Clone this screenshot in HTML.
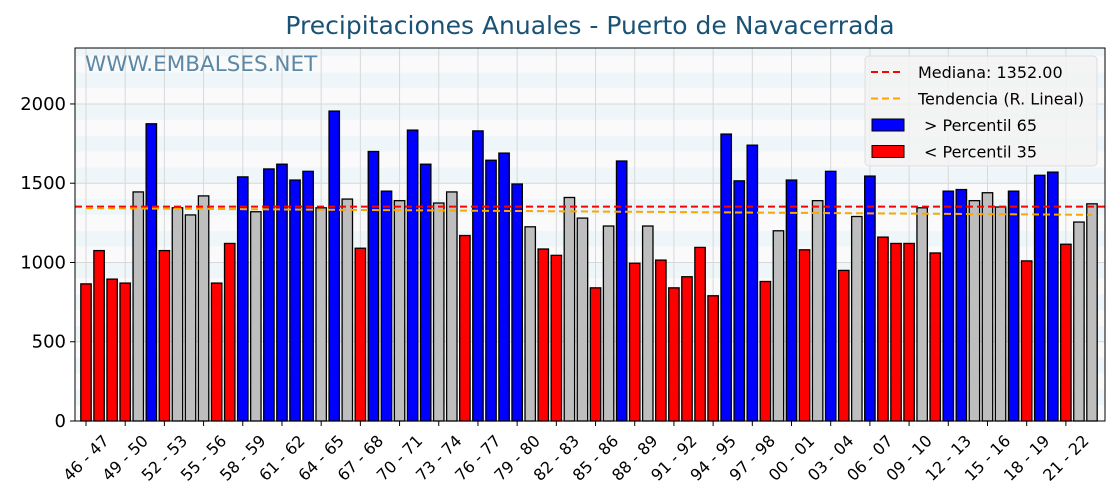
<!DOCTYPE html>
<html><head><meta charset="utf-8"><style>
body{margin:0;background:#fff;font-family:"DejaVu Sans","Liberation Sans",sans-serif}
</style></head><body>
<svg id="chart" width="1120" height="500" xmlns="http://www.w3.org/2000/svg" font-family="DejaVu Sans, Liberation Sans, sans-serif">
<text x="590" y="34" text-anchor="middle" font-size="25" fill="#1a5276">Precipitaciones Anuales - Puerto de Navacerrada</text>
<g id="plot"></g>
</svg>
<script>
const seasons=[];for(let y=46;y<124;y++){const a=y%100,b=(y+1)%100;seasons.push(String(a).padStart(2,'0')+' - '+String(b).padStart(2,'0'));}
const values=[865,1075,895,870,1445,1875,1075,1345,1300,1420,870,1120,1540,1320,1590,1620,1520,1575,1345,1955,1400,1090,1700,1450,1390,1835,1620,1375,1445,1170,1830,1645,1690,1495,1225,1085,1045,1410,1280,840,1230,1640,995,1230,1015,840,910,1095,790,1810,1515,1740,880,1200,1520,1080,1390,1575,950,1290,1545,1160,1120,1120,1345,1060,1450,1460,1390,1440,1350,1450,1010,1550,1570,1115,1255,1370];
const yTicks=[0,500,1000,1500,2000];
const median=[1352];
const thresholds=[1447,1185];
const NS='http://www.w3.org/2000/svg';
const L=75,R=1105,T=48,B=421,YMAX=2353;
const n=values.length, step=(1092-86)/(n-1);
const xS=i=>86+i*step, yS=v=>B-(v/YMAX)*(B-T);
const g=document.getElementById('plot');
function mk(t,a,p){const e=document.createElementNS(NS,t);for(const k in a)e.setAttribute(k,a[k]);(p||g).appendChild(e);return e;}
for(let v=0;v<YMAX;v+=200){const r=mk('rect',{x:L,y:yS(Math.min(v+200,YMAX)),width:R-L,height:yS(v+100)-yS(Math.min(v+200,YMAX)),fill:'#eef6f9'});


const r2=mk('rect',{x:L,y:yS(v+100),width:R-L,height:yS(v)-yS(v+100),fill:'#fafafa'});

}
yTicks.forEach(v=>{const l=mk('line',{x1:L,x2:R,y1:yS(v),y2:yS(v),stroke:'#d8d8d8','stroke-width':1});


const tk=mk('line',{x1:L-5,x2:L,y1:yS(v),y2:yS(v),stroke:'#000'});


const t=mk('text',{x:L-9,y:yS(v)+6,'text-anchor':'end','font-size':18,fill:'#000'});t.textContent=v;

});
for(let i=0;i<n;i+=3){const l=mk('line',{x1:xS(i),x2:xS(i),y1:T,y2:B,stroke:'#d8d8d8'});


const tk=mk('line',{x1:xS(i),x2:xS(i),y1:B,y2:B+5,stroke:'#000'});


const ax=xS(i), ay=B+37;
const t=mk('text',{x:ax,y:ay,'text-anchor':'middle','dominant-baseline':'central','font-size':16,transform:`rotate(-45 ${ax} ${ay})`});t.textContent=seasons[i];

}
values.forEach((v,i)=>{const c=v>thresholds[0]?'#0000ff':(v<thresholds[1]?'#ff0000':'#bebebe');
const b=mk('rect',{x:xS(i)-5.2,y:yS(v),width:10.4,height:B-yS(v),fill:c,stroke:'#000','stroke-width':1.3});

});
const ml=mk('line',{x1:L,x2:R,y1:yS(median[0]),y2:yS(median[0]),stroke:'#ff0000','stroke-width':2,'stroke-dasharray':'7,4'});


let sx=0,sy=0,sxx=0,sxy=0;values.forEach((v,i)=>{sx+=i;sy+=v;sxx+=i*i;sxy+=i*v;});
const sl=(n*sxy-sx*sy)/(n*sxx-sx*sx),ic=(sy-sl*sx)/n;
const tl=mk('line',{x1:xS(0),x2:xS(n-1),y1:yS(ic),y2:yS(ic+sl*(n-1)),stroke:'#ffa500','stroke-width':2,'stroke-dasharray':'7,4'});


const fr=mk('rect',{x:L,y:T,width:R-L,height:B-T,fill:'none',stroke:'#000','stroke-width':1});


const wm=mk('text',{x:85,y:71,'font-size':21.5,fill:'#5b88a8'});wm.textContent='WWW.EMBALSES.NET';


const lg=mk('g',{});


mk('rect',{x:865,y:56,width:232,height:110,rx:4,fill:'#f2f2f2','fill-opacity':0.85,stroke:'#dddddd'},lg);
const items=[['line','#ff0000','Mediana: 1352.00',918],['line','#ffa500','Tendencia (R. Lineal)',918],['box','#0000ff','> Percentil 65',924],['box','#ff0000','< Percentil 35',924]];
items.forEach((it,k)=>{const y=72+k*26.5;
if(it[0]==='line')mk('line',{x1:871,x2:903,y1:y,y2:y,stroke:it[1],'stroke-width':2,'stroke-dasharray':'7,4'},lg);
else mk('rect',{x:872,y:y-6,width:32,height:12,fill:it[1],stroke:'#000'},lg);
const t=mk('text',{x:it[3],y:y+6,'font-size':16},lg);t.textContent=it[2];

});
</script>
</body></html>
